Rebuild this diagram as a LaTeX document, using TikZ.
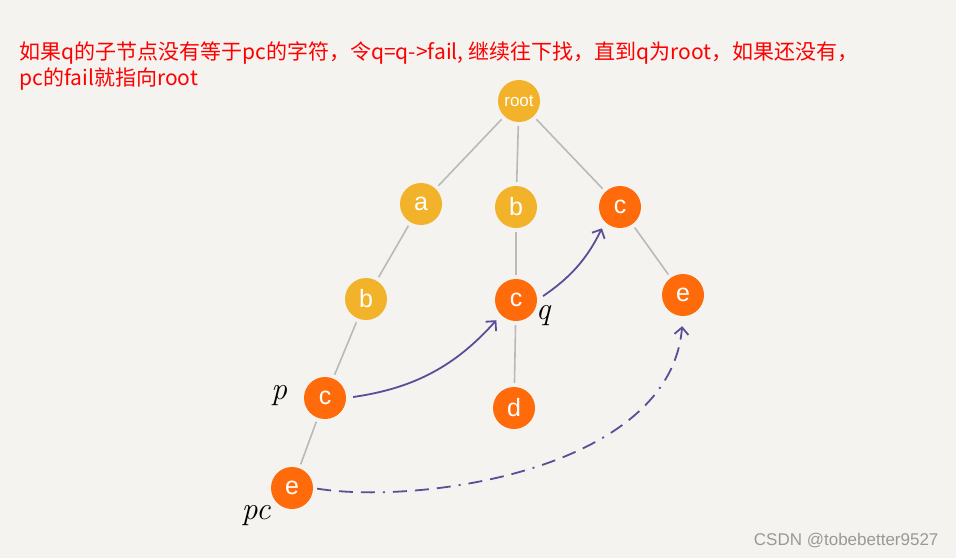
\documentclass[tikz,border=0pt]{standalone}
\usepackage{fontspec}
\newfontfamily\cjk{Noto Sans CJK SC}
\setsansfont{Liberation Sans}
\usetikzlibrary{arrows.meta}
\definecolor{bg}{HTML}{F4F3EF}
\definecolor{yel}{HTML}{F2B22A}
\definecolor{org}{HTML}{FF6A0A}
\definecolor{pur}{HTML}{5E4C99}
\tikzset{
  yn/.style={circle,fill=yel,minimum size=42pt,inner sep=0pt,text=white,font=\sffamily\fontsize{25}{25}\selectfont},
  on/.style={yn,fill=org},
  edge/.style={draw=gray!55,line width=1.6pt,shorten >=4pt,shorten <=4pt},
  fl/.style={draw=pur,line width=1.8pt,-{Straight Barb[length=7pt,width=14pt]},shorten >=7pt,shorten <=7pt},
  lab/.style={font=\itshape\fontsize{32}{32}\selectfont}
}
\begin{document}
\begin{tikzpicture}[x=1pt,y=-1pt]
\fill[bg] (0,0) rectangle (956,558);
\useasboundingbox (0,0) rectangle (956,558);
\node[yn,font=\sffamily\fontsize{17}{17}\selectfont] (root) at (519,101) {root};
\node[yn] (a) at (421,204) {a};
\node[yn] (b) at (516,207) {b};
\node[on] (c1) at (620,207) {c};
\node[yn] (b2) at (366,299) {b};
\node[on] (cq) at (516,300) {c};
\node[on] (e1) at (683,295) {e};
\node[on] (cp) at (325,398) {c};
\node[on] (d) at (514,408) {d};
\node[on] (epc) at (292,488) {e};
\draw[edge] (root) -- (a);
\draw[edge] (root) -- (b);
\draw[edge] (root) -- (c1);
\draw[edge] (a) -- (b2);
\draw[edge] (b2) -- (cp);
\draw[edge] (cp) -- (epc);
\draw[edge] (b) -- (cq);
\draw[edge] (cq) -- (d);
\draw[edge] (c1) -- (e1);
\draw[fl] (cp.east) to[bend right=20] (cq.south west);
\draw[fl] (cq.east) to[bend right=15] (c1.south west);
\draw[fl,shorten <=4pt,shorten >=10pt,dash pattern=on 14pt off 8pt on 14pt off 8pt on 14pt off 8pt on 2pt off 8pt] (epc.east) .. controls (420,505) and (670,470) .. (e1.south);
\node[lab] (pl) at (279,396) {p};
\node[lab] (ql) at (543,316) {q};
\node[lab] (pcl) at (256,516) {pc};
\node[anchor=west,text=red,font=\cjk\fontsize{21}{21}\selectfont,align=left] (t) at (16,66) {如果q的子节点没有等于pc的字符，令q=q->fail, 继续往下找，直到q为root，如果还没有，\\[3pt]pc的fail就指向root};
\node[anchor=east,text=gray!80,font=\sffamily\fontsize{17}{17}\selectfont] (w) at (942,541) {CSDN @tobebetter9527};
\end{tikzpicture}
\end{document}
